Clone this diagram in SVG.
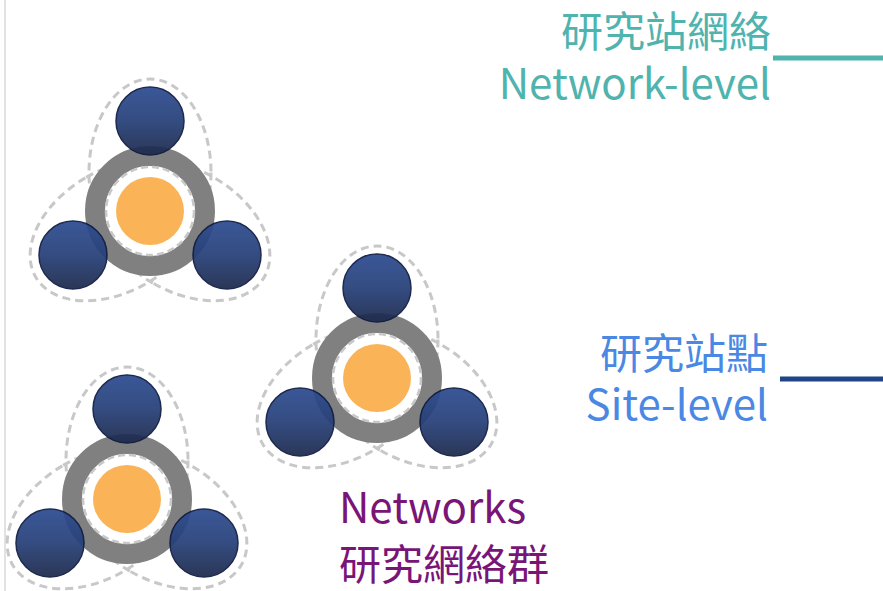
<svg xmlns="http://www.w3.org/2000/svg" width="883" height="591" viewBox="0 0 883 591">
  <defs>
    <linearGradient id="navy" x1="0" y1="0" x2="0" y2="1">
      <stop offset="0" stop-color="#2c4b90"/>
      <stop offset="0.5" stop-color="#253f78"/>
      <stop offset="1" stop-color="#1c284a"/>
    </linearGradient>
    <style>
      .petal { fill: none; stroke: #c8c8c8; stroke-width: 3; stroke-dasharray: 8 5; }
      .ring { fill: #ffffff; stroke: #808080; stroke-width: 20; }
      .inner { fill: #ffffff; stroke: #c8c8c8; stroke-width: 2.5; stroke-dasharray: 7 4; }
      .core { fill: #fab457; }
      .site { fill: url(#navy); stroke: #0e1a40; stroke-width: 1.5; opacity: 0.93; }
      .t { font-family: "Noto Sans CJK TC", "Noto Sans", sans-serif; font-size: 42px; }
    </style>
  </defs>
  <rect width="883" height="591" fill="#ffffff"/>
  <line x1="5" y1="0" x2="5" y2="591" stroke="#d9d9d9" stroke-width="1.5"/>

  <g id="connectors">
    <line x1="773" y1="58" x2="883" y2="58" stroke="#4fb3ae" stroke-width="5"/>
    <line x1="780" y1="379" x2="883" y2="379" stroke="#1f4488" stroke-width="5"/>
  </g>

  <g id="network1" transform="translate(150,211)">
    <ellipse class="petal" cx="0" cy="-38.5" rx="61" ry="93.5"/>
    <ellipse class="petal" cx="0" cy="-38.5" rx="61" ry="93.5" transform="rotate(-120)"/>
    <ellipse class="petal" cx="0" cy="-38.5" rx="61" ry="93.5" transform="rotate(120)"/>
    <circle class="ring" cx="0" cy="0" r="55"/>
    <circle class="inner" cx="0" cy="0" r="44"/>
    <circle class="core" cx="0" cy="0" r="34"/>
    <circle class="site" cx="0" cy="-90" r="34"/>
    <circle class="site" cx="-77" cy="44" r="34"/>
    <circle class="site" cx="77" cy="44" r="34"/>
  </g>

  <g id="network2" transform="translate(377,378)">
    <ellipse class="petal" cx="0" cy="-38.5" rx="61" ry="93.5"/>
    <ellipse class="petal" cx="0" cy="-38.5" rx="61" ry="93.5" transform="rotate(-120)"/>
    <ellipse class="petal" cx="0" cy="-38.5" rx="61" ry="93.5" transform="rotate(120)"/>
    <circle class="ring" cx="0" cy="0" r="55"/>
    <circle class="inner" cx="0" cy="0" r="44"/>
    <circle class="core" cx="0" cy="0" r="34"/>
    <circle class="site" cx="0" cy="-90" r="34"/>
    <circle class="site" cx="-77" cy="44" r="34"/>
    <circle class="site" cx="77" cy="44" r="34"/>
  </g>

  <g id="network3" transform="translate(127,499)">
    <ellipse class="petal" cx="0" cy="-38.5" rx="61" ry="93.5"/>
    <ellipse class="petal" cx="0" cy="-38.5" rx="61" ry="93.5" transform="rotate(-120)"/>
    <ellipse class="petal" cx="0" cy="-38.5" rx="61" ry="93.5" transform="rotate(120)"/>
    <circle class="ring" cx="0" cy="0" r="55"/>
    <circle class="inner" cx="0" cy="0" r="44"/>
    <circle class="core" cx="0" cy="0" r="34"/>
    <circle class="site" cx="0" cy="-90" r="34"/>
    <circle class="site" cx="-77" cy="44" r="34"/>
    <circle class="site" cx="77" cy="44" r="34"/>
  </g>

  <g id="label-network-level" class="t" fill="#4fb3ae" text-anchor="end">
    <text x="771" y="47">研究站網絡</text>
    <text x="771" y="99">Network-level</text>
  </g>

  <g id="label-site-level" class="t" fill="#4a88e4" text-anchor="end">
    <text x="768" y="369">研究站點</text>
    <text x="768" y="420">Site-level</text>
  </g>

  <g id="label-networks" class="t" fill="#7a1578">
    <text x="339" y="523">Networks</text>
    <text x="339" y="580">研究網絡群</text>
  </g>
</svg>
